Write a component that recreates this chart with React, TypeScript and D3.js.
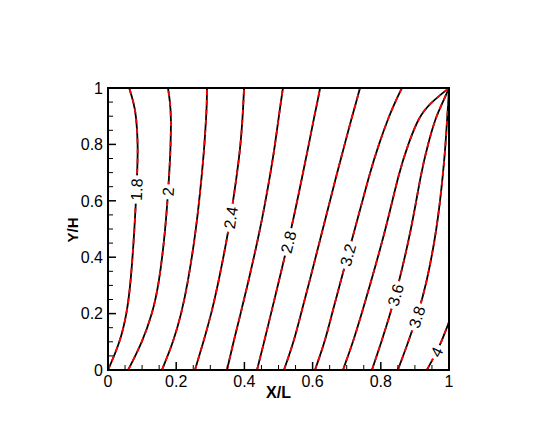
import React from 'react';
import * as d3 from 'd3';

const levels = [1.8, 2.0, 2.2, 2.4, 2.6, 2.8, 3.0, 3.2, 3.4, 3.6, 3.8];
const ySamples = [0, 0.1, 0.2, 0.3, 0.5, 0.7, 0.8, 0.9, 0.95, 1];

const x18 = [0.0, 0.036, 0.055, 0.066, 0.078, 0.086, 0.088, 0.083, 0.075, 0.062];
const x20 = [0.059, 0.101, 0.13, 0.149, 0.169, 0.18, 0.184, 0.185, 0.182, 0.176];
const x22 = [0.158, 0.192, 0.215, 0.233, 0.259, 0.276, 0.283, 0.288, 0.29, 0.29];
const x24 = [0.255, 0.28, 0.303, 0.322, 0.355, 0.379, 0.389, 0.395, 0.397, 0.399];
const x26 = [0.349, 0.368, 0.389, 0.409, 0.447, 0.477, 0.49, 0.501, 0.507, 0.513];
const x28 = [0.437, 0.458, 0.478, 0.498, 0.538, 0.572, 0.589, 0.605, 0.614, 0.622];
const x30 = [0.516, 0.545, 0.566, 0.588, 0.63, 0.672, 0.694, 0.716, 0.728, 0.739];
const x32 = [0.607, 0.636, 0.657, 0.679, 0.724, 0.768, 0.794, 0.824, 0.842, 0.862];
const x34 = [0.689, 0.719, 0.744, 0.768, 0.815, 0.853, 0.88, 0.912, 0.948, 1.0];
const x36 = [0.774, 0.802, 0.828, 0.851, 0.89, 0.918, 0.938, 0.962, 0.982, 1.0];
const x38 = [0.85, 0.881, 0.909, 0.933, 0.965, 0.983, 0.99, 0.995, 0.998, 1.0];

// the 4.0 line leaves through the right edge
const y40 = [0, 0.05, 0.1, 0.17];
const x40 = [0.935, 0.958, 0.978, 1.0];

const labelTexts = ['1.8', '2', '2.4', '2.8', '3.2', '3.6', '3.8', '4'];
const labelLevels = [1.8, 2.0, 2.4, 2.8, 3.2, 3.6, 3.8, 4.0];
const labelYs = [0.64, 0.632, 0.54, 0.454, 0.408, 0.266, 0.188, 0.064];

const xTicks = [0, 0.2, 0.4, 0.6, 0.8, 1];
const yTicks = [0, 0.2, 0.4, 0.6, 0.8, 1];
const tickLabels = ['0', '0.2', '0.4', '0.6', '0.8', '1'];

const W = 554;
const H = 428;
const margin = { left: 108, right: 105, top: 88, bottom: 58 };
const font = 'Arial, "Liberation Sans", sans-serif';

const contours = [
  ...[x18, x20, x22, x24, x26, x28, x30, x32, x34, x36, x38].map((xs, i) => ({
    level: levels[i],
    xs,
    ys: ySamples,
  })),
  { level: 4.0, xs: x40, ys: y40 },
];

const textWidth = (s: string) =>
  s.split('').reduce((w, c) => w + (c === '.' ? 4.45 : 8.9), 0);

export default function App() {
  const x = d3.scaleLinear().domain([0, 1]).range([margin.left, W - margin.right]);
  const y = d3.scaleLinear().domain([0, 1]).range([H - margin.bottom, margin.top]);

  const line = d3
    .line<[number, number]>()
    .x(d => x(d[0]))
    .y(d => y(d[1]))
    .curve(d3.curveBasis);

  const paths = contours.map(c => ({
    level: c.level,
    d: line(c.xs.map((v, i) => [v, c.ys[i]] as [number, number])) || '',
  }));

  // place each label on its line and turn it along the local direction
  const labels = labelTexts.map((t, i) => {
    const c = contours.find(k => k.level === labelLevels[i])!;
    const at = d3.scaleLinear().domain(c.ys).range(c.xs).clamp(true);
    const ly = labelYs[i];
    const px = x(at(ly));
    const py = y(ly);
    const dx = x(at(ly + 0.03)) - x(at(ly - 0.03));
    const dy = y(ly + 0.03) - y(ly - 0.03);
    const angle = (Math.atan2(dy, dx) * 180) / Math.PI;
    return { t, px, py, angle, w: textWidth(t) };
  });

  const minorX = d3.range(0, 1.0001, 0.05);
  const minorY = d3.range(0, 1.0001, 0.05);

  return (
    <svg
      width={W}
      height={H}
      style={{ position: 'absolute', left: 0, top: 0, background: 'white' }}
    >
      <defs>
        <clipPath id="plot-clip">
          <rect x={x(0)} y={y(1)} width={x(1) - x(0)} height={y(0) - y(1)} />
        </clipPath>
        <mask id="label-gaps" maskUnits="userSpaceOnUse" x={0} y={0} width={W} height={H}>
          <rect x={0} y={0} width={W} height={H} fill="white" />
          {labels.map((l, i) => (
            <rect
              key={i}
              x={-l.w / 2 - 3}
              y={-7}
              width={l.w + 6}
              height={14}
              fill="black"
              transform={`translate(${l.px},${l.py}) rotate(${l.angle})`}
            />
          ))}
        </mask>
      </defs>

      <g clipPath="url(#plot-clip)">
        <g mask="url(#label-gaps)">
          {paths.map(p => (
            <path key={'k' + p.level} d={p.d} fill="none" stroke="black" strokeWidth={1.8} />
          ))}
          {paths.map(p => (
            <path
              key={'r' + p.level}
              d={p.d}
              fill="none"
              stroke="#ff0000"
              strokeWidth={1.8}
              strokeDasharray="5 5"
            />
          ))}
        </g>
      </g>

      {labels.map((l, i) => (
        <text
          key={i}
          transform={`translate(${l.px},${l.py}) rotate(${l.angle})`}
          textAnchor="middle"
          dy="0.36em"
          fontFamily={font}
          fontSize={16}
          fill="black"
        >
          {l.t}
        </text>
      ))}

      {/* ticks, pointing into the plot */}
      {minorX.map((v, i) => {
        const major = i % 4 === 0;
        return (
          <line
            key={'tx' + i}
            x1={x(v)}
            x2={x(v)}
            y1={y(0)}
            y2={y(0) - (major ? 8 : 5)}
            stroke="black"
            strokeWidth={major ? 1.5 : 1}
          />
        );
      })}
      {minorY.map((v, i) => {
        const major = i % 4 === 0;
        return (
          <line
            key={'ty' + i}
            x1={x(0)}
            x2={x(0) + (major ? 8 : 5)}
            y1={y(v)}
            y2={y(v)}
            stroke="black"
            strokeWidth={major ? 1.5 : 1}
          />
        );
      })}

      <rect
        x={x(0)}
        y={y(1)}
        width={x(1) - x(0)}
        height={y(0) - y(1)}
        fill="none"
        stroke="black"
        strokeWidth={2}
      />

      {xTicks.map((v, i) => (
        <text
          key={'lx' + i}
          x={x(v)}
          y={y(0) + 17}
          textAnchor="middle"
          fontFamily={font}
          fontSize={16}
        >
          {tickLabels[i]}
        </text>
      ))}
      {yTicks.map((v, i) => (
        <text
          key={'ly' + i}
          x={x(0) - 5}
          y={y(v)}
          dy="0.36em"
          textAnchor="end"
          fontFamily={font}
          fontSize={16}
        >
          {tickLabels[i]}
        </text>
      ))}

      <text
        x={(x(0) + x(1)) / 2}
        y={398}
        textAnchor="middle"
        fontFamily={font}
        fontSize={16}
        fontWeight="bold"
      >
        X/L
      </text>
      <text
        transform={`translate(78,230) rotate(-90)`}
        textAnchor="middle"
        fontFamily={font}
        fontSize={15}
        fontWeight="bold"
      >
        Y/H
      </text>
    </svg>
  );
}
